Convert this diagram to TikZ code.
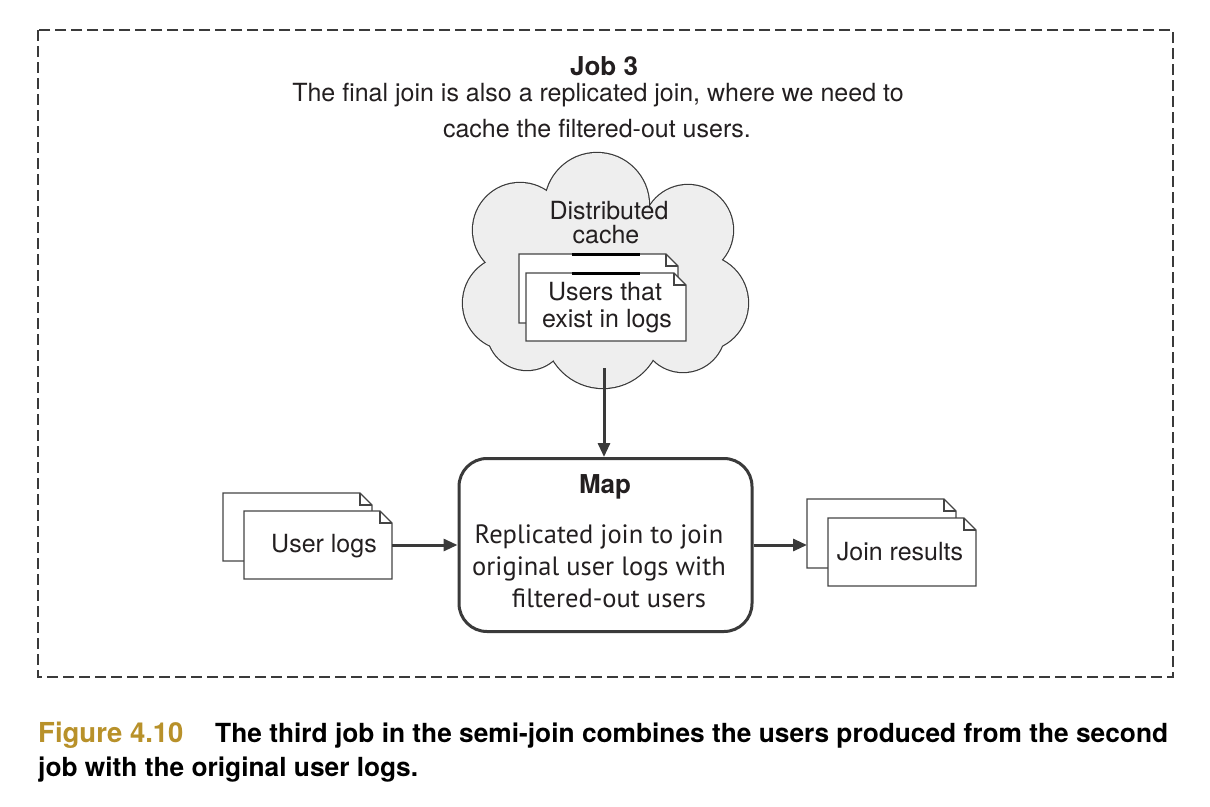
\documentclass[tikz,border=0pt]{standalone}
\usepackage{fontspec}
\setmainfont{TeX Gyre Heros}
\newfontfamily\helv{TeX Gyre Heros}
\newfontfamily\myr{PT Sans}
\usetikzlibrary{arrows.meta}
\pgfdeclarelayer{bg}
\pgfsetlayers{bg,main}
\definecolor{ink}{HTML}{231F20}
\definecolor{linec}{HTML}{3A3A3A}
\definecolor{docc}{HTML}{444444}
\definecolor{cloudfill}{HTML}{EEEEEE}
\definecolor{gold}{HTML}{B8912A}
\newcommand\docpath[1]{%
  \begin{pgfonlayer}{bg}
  \draw[docline, fill=white] (#1.south west) -- (#1.north west) -- ([xshift=-12pt]#1.north east) -- ([yshift=-12pt]#1.north east) -- (#1.south east) -- cycle;
  \draw[docline] ([xshift=-12pt]#1.north east) -- ([xshift=-12pt,yshift=-12pt]#1.north east) -- ([yshift=-12pt]#1.north east);
  \end{pgfonlayer}}
\begin{document}
\begin{tikzpicture}[x=1pt,y=-1pt,
  docnode/.style={inner sep=0pt, outer sep=0pt, draw=none},
  docline/.style={draw=docc, line width=1.3pt, line join=miter},
  arr/.style={draw=linec, line width=3pt, -{Triangle[length=14pt,width=12pt]}},
  txt/.style={font=\helv\fontsize{25}{30}\selectfont, text=ink, inner sep=0pt, anchor=base},
  btxt/.style={font=\helv\bfseries\fontsize{26}{30}\selectfont, text=ink, inner sep=0pt, anchor=base},
  mtxt/.style={font=\myr\fontsize{26.5}{32}\selectfont, text=ink, inner sep=0pt, anchor=base},
  captxt/.style={font=\helv\bfseries\fontsize{26.3}{34}\selectfont, text=black, inner sep=0pt, anchor=base west},
  mapbox/.style={draw=linec, line width=3pt, rounded corners=28pt, minimum width=293pt, minimum height=173pt, inner sep=0pt, fill=white},
  frame/.style={draw=linec, line width=1.6pt, dash pattern=on 11pt off 5pt},
  cloudline/.style={draw=linec, line width=2.4pt},
  cloudin/.style={fill=cloudfill}
]
\useasboundingbox (0,0) rectangle (1210,806);
\begin{pgfonlayer}{bg}
\fill[white] (0,0) rectangle (1210,806);
% cloud outline (union of circles)
\foreach \cx/\cy/\r in {597/205/52, 520/230/47, 688/230/45, 510/303/47, 700/303/48, 527/330/40, 603/330/58, 683/330/42, 605/280/85}
  \draw[cloudline] (\cx,\cy) circle[radius=\r pt];
\foreach \cx/\cy/\r in {597/205/52, 520/230/47, 688/230/45, 510/303/47, 700/303/48, 527/330/40, 603/330/58, 683/330/42, 605/280/85}
  \fill[cloudin] (\cx,\cy) circle[radius=\r pt];
\end{pgfonlayer}

% frame
\draw[frame] (38,30) rectangle (1173,677);

% heading
\node[btxt] (job) at (604,75) {Job 3};
\node[txt] (desc1) at (598,101) {The final join is also a replicated join, where we need to};
\node[txt] (desc2) at (597,137) {cache the filtered-out users.};

% cloud contents
\node[txt] (dist) at (609,219) {Distributed};
\node[txt] (cache) at (606,243) {cache};
\node[docnode, minimum width=159pt, minimum height=69pt] (cback) at (598.5,288.5) {};
\docpath{cback}
\node[docnode, minimum width=160pt, minimum height=68pt] (cfront) at (606,307) {};
\docpath{cfront}
\node[txt] (users1) at (605,300) {Users that};
\node[txt] (users2) at (607,327) {exist in logs};
\draw[line width=3pt, draw=black] (572,254) -- (640,254);
\draw[line width=3pt, draw=black] (572,273) -- (640,273);
\coordinate (cloudout) at (604,368);

% map
\node[mapbox] (map) at (605.5,545) {};
\node[btxt] (maptitle) at (605,493) {Map};
\node[mtxt] (map1) at (599,543) {Replicated join to join};
\node[mtxt] (map2) at (599,575) {original user logs with};
\node[mtxt] (map3) at (609,607) {filtered-out users};

% user logs
\node[docnode, minimum width=149pt, minimum height=68pt] (ulback) at (297.5,527) {};
\docpath{ulback}
\node[docnode, minimum width=148pt, minimum height=68pt] (ul) at (318,545) {};
\docpath{ul}
\node[txt] (ultext) at (324,552) {User logs};

% join results
\node[docnode, minimum width=149pt, minimum height=69pt] (jrback) at (881.5,533.5) {};
\docpath{jrback}
\node[docnode, minimum width=148pt, minimum height=68pt] (jr) at (902,552) {};
\docpath{jr}
\node[txt] (jrtext) at (900,560) {Join results};

% arrows
\draw[arr] (cloudout) -- (cloudout |- map.north);
\draw[arr] (ul.east) -- (map.west);
\draw[arr] (map.east) -- (map.east -| jrback.west);

% caption
\node[captxt, text=gold, font=\helv\bfseries\fontsize{27.5}{34}\selectfont] (figno) at (38,742) {Figure 4.10};
\node[captxt] (cap1) at (215,742) {The third job in the semi-join combines the users produced from the second};
\node[captxt] (cap2) at (38,776) {job with the original user logs.};
\end{tikzpicture}
\end{document}
